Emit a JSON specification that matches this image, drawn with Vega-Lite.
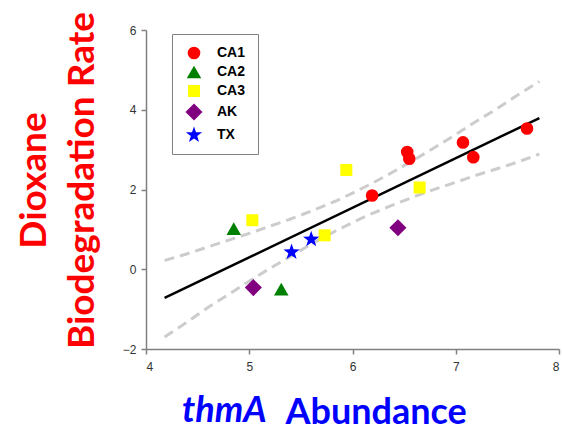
{
  "$schema": "https://vega.github.io/schema/vega-lite/v6.json",
  "width": 413,
  "height": 319,
  "autosize": {"type": "none"},
  "padding": {"left": 146, "top": 30, "right": 4, "bottom": 81},
  "background": "white",
  "title": {
    "text": "thmA",
    "orient": "bottom",
    "anchor": "start",
    "frame": "group",
    "font": "Lato",
    "fontSize": 36,
    "fontWeight": "bold",
    "fontStyle": "italic",
    "color": "#0000ff",
    "baseline": "alphabetic",
    "dx": 36,
    "offset": -8
  },
  "config": {
    "view": {"stroke": null},
    "font": "Liberation Sans",
    "axis": {
      "domainColor": "#808080",
      "domainWidth": 1.5,
      "tickColor": "#808080",
      "tickWidth": 1.5,
      "tickSize": 5,
      "labelFont": "Liberation Sans",
      "labelFontSize": 12,
      "labelColor": "#333333",
      "grid": false
    }
  },
  "datasets": {
    "points": [
      {"group": "CA1", "abundance": 6.19, "rate": 1.85},
      {"group": "CA1", "abundance": 6.53, "rate": 2.94},
      {"group": "CA1", "abundance": 6.55, "rate": 2.77},
      {"group": "CA1", "abundance": 7.07, "rate": 3.18},
      {"group": "CA1", "abundance": 7.17, "rate": 2.81},
      {"group": "CA1", "abundance": 7.69, "rate": 3.53},
      {"group": "CA2", "abundance": 4.85, "rate": 1.02},
      {"group": "CA2", "abundance": 5.31, "rate": -0.5},
      {"group": "CA3", "abundance": 5.03, "rate": 1.23},
      {"group": "CA3", "abundance": 5.73, "rate": 0.85},
      {"group": "CA3", "abundance": 5.94, "rate": 2.49},
      {"group": "CA3", "abundance": 6.65, "rate": 2.05},
      {"group": "AK", "abundance": 5.04, "rate": -0.46},
      {"group": "AK", "abundance": 6.44, "rate": 1.04},
      {"group": "TX", "abundance": 5.41, "rate": 0.43},
      {"group": "TX", "abundance": 5.6, "rate": 0.75}
    ],
    "fit": [
      {"abundance": 4.18, "rate": -0.72},
      {"abundance": 7.81, "rate": 3.79}
    ],
    "band": [
      {"bound": "upper", "abundance": 4.18, "rate": 0.22},
      {"bound": "upper", "abundance": 4.4, "rate": 0.39},
      {"bound": "upper", "abundance": 4.6, "rate": 0.56},
      {"bound": "upper", "abundance": 4.8, "rate": 0.73},
      {"bound": "upper", "abundance": 5.0, "rate": 0.9},
      {"bound": "upper", "abundance": 5.2, "rate": 1.08},
      {"bound": "upper", "abundance": 5.4, "rate": 1.26},
      {"bound": "upper", "abundance": 5.6, "rate": 1.46},
      {"bound": "upper", "abundance": 5.8, "rate": 1.67},
      {"bound": "upper", "abundance": 6.0, "rate": 1.91},
      {"bound": "upper", "abundance": 6.2, "rate": 2.17},
      {"bound": "upper", "abundance": 6.4, "rate": 2.45},
      {"bound": "upper", "abundance": 6.6, "rate": 2.75},
      {"bound": "upper", "abundance": 6.8, "rate": 3.06},
      {"bound": "upper", "abundance": 7.0, "rate": 3.38},
      {"bound": "upper", "abundance": 7.2, "rate": 3.71},
      {"bound": "upper", "abundance": 7.4, "rate": 4.03},
      {"bound": "upper", "abundance": 7.6, "rate": 4.37},
      {"bound": "upper", "abundance": 7.81, "rate": 4.71},
      {"bound": "lower", "abundance": 4.18, "rate": -1.7},
      {"bound": "lower", "abundance": 4.4, "rate": -1.32},
      {"bound": "lower", "abundance": 4.6, "rate": -0.96},
      {"bound": "lower", "abundance": 4.8, "rate": -0.63},
      {"bound": "lower", "abundance": 5.0, "rate": -0.3},
      {"bound": "lower", "abundance": 5.2, "rate": 0.02},
      {"bound": "lower", "abundance": 5.4, "rate": 0.32},
      {"bound": "lower", "abundance": 5.6, "rate": 0.63},
      {"bound": "lower", "abundance": 5.8, "rate": 0.91},
      {"bound": "lower", "abundance": 6.0, "rate": 1.17},
      {"bound": "lower", "abundance": 6.2, "rate": 1.41},
      {"bound": "lower", "abundance": 6.4, "rate": 1.62},
      {"bound": "lower", "abundance": 6.6, "rate": 1.82},
      {"bound": "lower", "abundance": 6.8, "rate": 2.01},
      {"bound": "lower", "abundance": 7.0, "rate": 2.18},
      {"bound": "lower", "abundance": 7.2, "rate": 2.36},
      {"bound": "lower", "abundance": 7.4, "rate": 2.52},
      {"bound": "lower", "abundance": 7.6, "rate": 2.69},
      {"bound": "lower", "abundance": 7.81, "rate": 2.89}
    ]
  },
  "encoding": {
    "x": {
      "field": "abundance",
      "type": "quantitative",
      "scale": {"domain": [4, 8], "nice": false, "zero": false},
      "axis": {
        "values": [4, 5, 6, 7, 8],
        "labelPadding": 7,
        "title": "Abundance",
        "titleFont": "Lato",
        "titleFontSize": 36,
        "titleFontWeight": "bold",
        "titleColor": "#0000ff",
        "titleAngle": 0,
        "titleAlign": "left",
        "titleBaseline": "alphabetic",
        "titleX": 139,
        "titleY": 74
      }
    },
    "y": {
      "field": "rate",
      "type": "quantitative",
      "scale": {"domain": [-2, 6], "nice": false, "zero": false},
      "axis": {
        "values": [-2, 0, 2, 4, 6],
        "labelPadding": 5,
        "title": ["Dioxane", "Biodegradation Rate"],
        "titleFont": "Lato",
        "titleFontSize": 37,
        "titleFontWeight": "bold",
        "titleColor": "#ff0000",
        "titleAngle": -90,
        "titleAlign": "center",
        "titleBaseline": "top",
        "titleLineHeight": 48,
        "titleX": -130,
        "titleY": 150
      }
    }
  },
  "layer": [
    {
      "data": {"name": "band"},
      "mark": {"type": "line", "color": "#cccccc", "strokeWidth": 3, "strokeDash": [10, 6], "interpolate": "monotone"},
      "encoding": {"detail": {"field": "bound"}}
    },
    {
      "data": {"name": "fit"},
      "mark": {"type": "line", "color": "#000000", "strokeWidth": 2.5}
    },
    {
      "data": {"name": "points"},
      "mark": {"type": "point", "filled": true, "opacity": 1, "strokeWidth": 0, "size": 160},
      "encoding": {
        "color": {
          "field": "group",
          "type": "nominal",
          "scale": {"domain": ["CA1", "CA2", "CA3", "AK", "TX"], "range": ["#ff0000", "#008000", "#ffff00", "#800080", "#0000ff"]},
          "legend": {
            "orient": "none",
            "legendX": 26,
            "legendY": 4,
            "title": null,
            "padding": 12,
            "strokeColor": "#808080",
            "fillColor": "#ffffff",
            "labelFont": "Liberation Sans",
            "labelFontSize": 14,
            "labelFontWeight": "bold",
            "labelColor": "#000000",
            "symbolOffset": 3,
            "labelOffset": 16,
            "rowPadding": 5,
            "symbolSize": 160,
            "symbolStrokeWidth": 0
          }
        },
        "shape": {
          "field": "group",
          "type": "nominal",
          "scale": {"domain": ["CA1", "CA2", "CA3", "AK", "TX"], "range": ["circle", "M0,-1L1.15,1L-1.15,1Z", "M-0.95,-0.95L0.95,-0.95L0.95,0.95L-0.95,0.95Z", "M-1.35,0L0,-1.35L1.35,0L0,1.35Z", "M0,-1.35L0.317,-0.437L1.284,-0.417L0.513,0.167L0.794,1.092L0,0.54L-0.794,1.092L-0.513,0.167L-1.284,-0.417L-0.317,-0.437Z"]}
        }
      }
    },
    {
      "mark": {"type": "text", "font": "Lato", "fontSize": 23, "align": "left", "baseline": "middle", "color": "#000000", "text": "R² = 0.6976"},
      "encoding": {"x": {"datum": 5.655}, "y": {"datum": 5.3}}
    },
    {
      "mark": {"type": "text", "font": "Lato", "fontSize": 23, "fontStyle": "italic", "align": "left", "baseline": "middle", "color": "#000000", "text": "p"},
      "encoding": {"x": {"datum": 5.636}, "y": {"datum": 4.54}}
    },
    {
      "mark": {"type": "text", "font": "Lato", "fontSize": 23, "align": "left", "baseline": "middle", "color": "#000000", "text": "= 0.00006"},
      "encoding": {"x": {"datum": 5.84}, "y": {"datum": 4.54}}
    },
    {
      "mark": {"type": "text", "font": "Liberation Sans", "fontSize": 19, "fontWeight": "bold", "align": "center", "baseline": "middle", "color": "#000000", "text": "A"},
      "encoding": {"x": {"datum": 7.62}, "y": {"datum": 5.5}}
    }
  ]
}
